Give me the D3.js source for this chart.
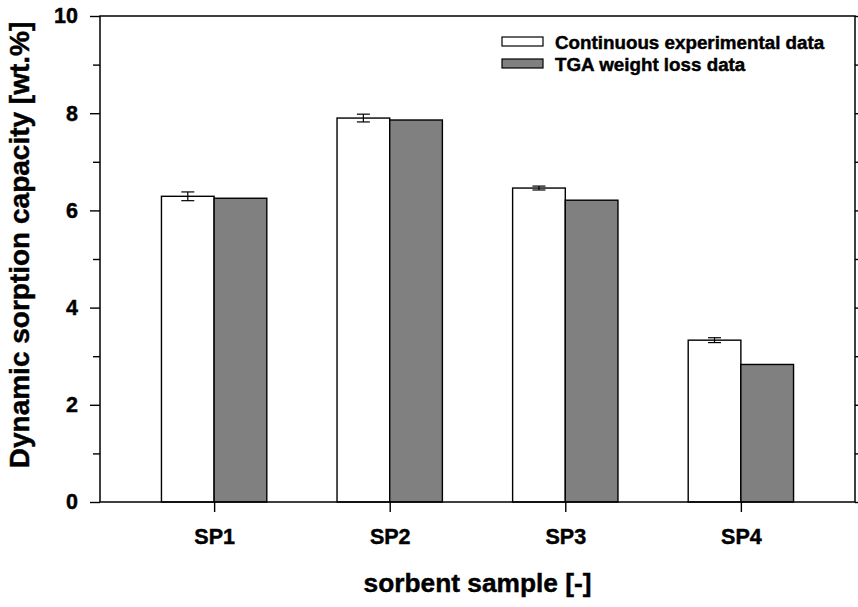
<!DOCTYPE html>
<html>
<head>
<meta charset="utf-8">
<script src="https://cdn.jsdelivr.net/npm/d3@7"></script>
<style>
  html, body { margin: 0; padding: 0; background: #fff; }
  svg { display: block; font-family: "Liberation Sans", Arial, Helvetica, sans-serif; font-weight: bold; }
  svg text { stroke: #000; stroke-width: 0.45px; fill: #000; }
</style>
</head>
<body>
<svg id="chart" width="858" height="607"></svg>
<script>
// Sorbent samples and measured capacities (wt.%)
const categories = ["SP1", "SP2", "SP3", "SP4"];
const continuousValues = [6.29, 7.90, 6.46, 3.33];
const continuousErrors = [0.09, 0.08, 0.04, 0.05];
const tgaValues = [6.25, 7.86, 6.21, 2.83];
const yTicks = [0, 2, 4, 6, 8, 10];
const yMinorTicks = [1, 3, 5, 7, 9];
const seriesNames = ["Continuous experimental data", "TGA weight loss data"];

const svg = d3.select("#chart");
const margin = { left: 100, right: 3, top: 16, bottom: 105 };
const W = 858, H = 607;
const x0 = margin.left, x1 = W - margin.right;
const y0 = H - margin.bottom, y1 = margin.top;

const x = d3.scaleLinear().domain([0.35, categories.length + 0.65]).range([x0, x1]);
const y = d3.scaleLinear().domain([0, 10]).range([y0, y1]);
const barW = 0.3;

const g = svg.append("g");

// bars
const rows = categories.map((c, i) => ({ c, i, cont: continuousValues[i], err: continuousErrors[i], tga: tgaValues[i] }));

g.selectAll("rect.cont").data(rows).join("rect")
  .attr("class", "cont")
  .attr("x", d => x(d.i + 1 - barW))
  .attr("width", d => x(d.i + 1) - x(d.i + 1 - barW))
  .attr("y", d => y(d.cont))
  .attr("height", d => y(0) - y(d.cont))
  .attr("fill", "#ffffff").attr("stroke", "#000").attr("stroke-width", 1.4);

g.selectAll("rect.tga").data(rows).join("rect")
  .attr("class", "tga")
  .attr("x", d => x(d.i + 1))
  .attr("width", d => x(d.i + 1 + barW) - x(d.i + 1))
  .attr("y", d => y(d.tga))
  .attr("height", d => y(0) - y(d.tga))
  .attr("fill", "#808080").attr("stroke", "#000").attr("stroke-width", 1.4);

// error bars on continuous series
const eb = g.selectAll("g.err").data(rows).join("g").attr("class", "err");
const cx = d => x(d.i + 1 - barW / 2);
eb.append("line")
  .attr("x1", cx).attr("x2", cx)
  .attr("y1", d => y(d.cont + d.err)).attr("y2", d => y(d.cont - d.err))
  .attr("stroke", "#000").attr("stroke-width", 1.2);
eb.selectAll("line.cap").data(d => [[d, d.cont + d.err], [d, d.cont - d.err]]).join("line")
  .attr("class", "cap")
  .attr("x1", p => cx(p[0]) - 6.5).attr("x2", p => cx(p[0]) + 6.5)
  .attr("y1", p => y(p[1])).attr("y2", p => y(p[1]))
  .attr("stroke", "#000").attr("stroke-width", 1.2);

// frame
g.append("rect").attr("x", x0).attr("y", y1).attr("width", x1 - x0).attr("height", y0 - y1)
  .attr("fill", "none").attr("stroke", "#000").attr("stroke-width", 1.5);

// left axis
const yAxis = d3.axisLeft(y).tickValues(yTicks).tickSize(10).tickPadding(12).tickFormat(d3.format("d"));
const ya = svg.append("g").attr("transform", `translate(${x0},0)`).call(yAxis);
ya.select(".domain").remove();
ya.selectAll(".tick line").attr("stroke-width", 1.4);
ya.selectAll(".tick text").attr("font-size", 21.5).attr("font-family", null).attr("font-weight", "bold").attr("fill", "#000");

const yMinor = d3.axisLeft(y).tickValues(yMinorTicks).tickSize(7).tickFormat("");
const ym = svg.append("g").attr("transform", `translate(${x0},0)`).call(yMinor);
ym.select(".domain").remove();
ym.selectAll(".tick line").attr("stroke-width", 1.4);

// right axis ticks
const yR = d3.axisRight(y).tickValues(yTicks.concat(yMinorTicks)).tickSize(7).tickFormat("");
const yr = svg.append("g").attr("transform", `translate(${x1},0)`).call(yR);
yr.select(".domain").remove();
yr.selectAll(".tick line").attr("stroke-width", 1.4);

// bottom axis
const xAxis = d3.axisBottom(x).tickValues(categories.map((c, i) => i + 1)).tickSize(10).tickPadding(17)
  .tickFormat((d, i) => categories[i]);
const xa = svg.append("g").attr("transform", `translate(0,${y0})`).call(xAxis);
xa.select(".domain").remove();
xa.selectAll(".tick line").attr("stroke-width", 1.4);
xa.selectAll(".tick text").attr("font-size", 21.5).attr("font-family", null).attr("font-weight", "bold").attr("fill", "#000");

// axis titles
svg.append("text")
  .attr("x", (x0 + x1) / 2).attr("y", 592)
  .attr("text-anchor", "middle").attr("font-size", 26.3)
  .text("sorbent sample [-]");

svg.append("text")
  .attr("transform", "translate(29,245) rotate(-90)")
  .attr("text-anchor", "middle").attr("font-size", 28)
  .text("Dynamic sorption capacity [wt.%]");

// legend
const legend = svg.append("g").attr("transform", "translate(502,37)");
const legendFill = ["#ffffff", "#808080"];
seriesNames.forEach((name, i) => {
  const row = legend.append("g").attr("transform", `translate(0,${i * 22})`);
  row.append("rect").attr("x", 0).attr("y", 0).attr("width", 41).attr("height", 9)
    .attr("fill", legendFill[i]).attr("stroke", "#000").attr("stroke-width", 1.2);
  row.append("text").attr("x", 53).attr("y", 12).attr("font-size", 18.8).text(name);
});
</script>
</body>
</html>
